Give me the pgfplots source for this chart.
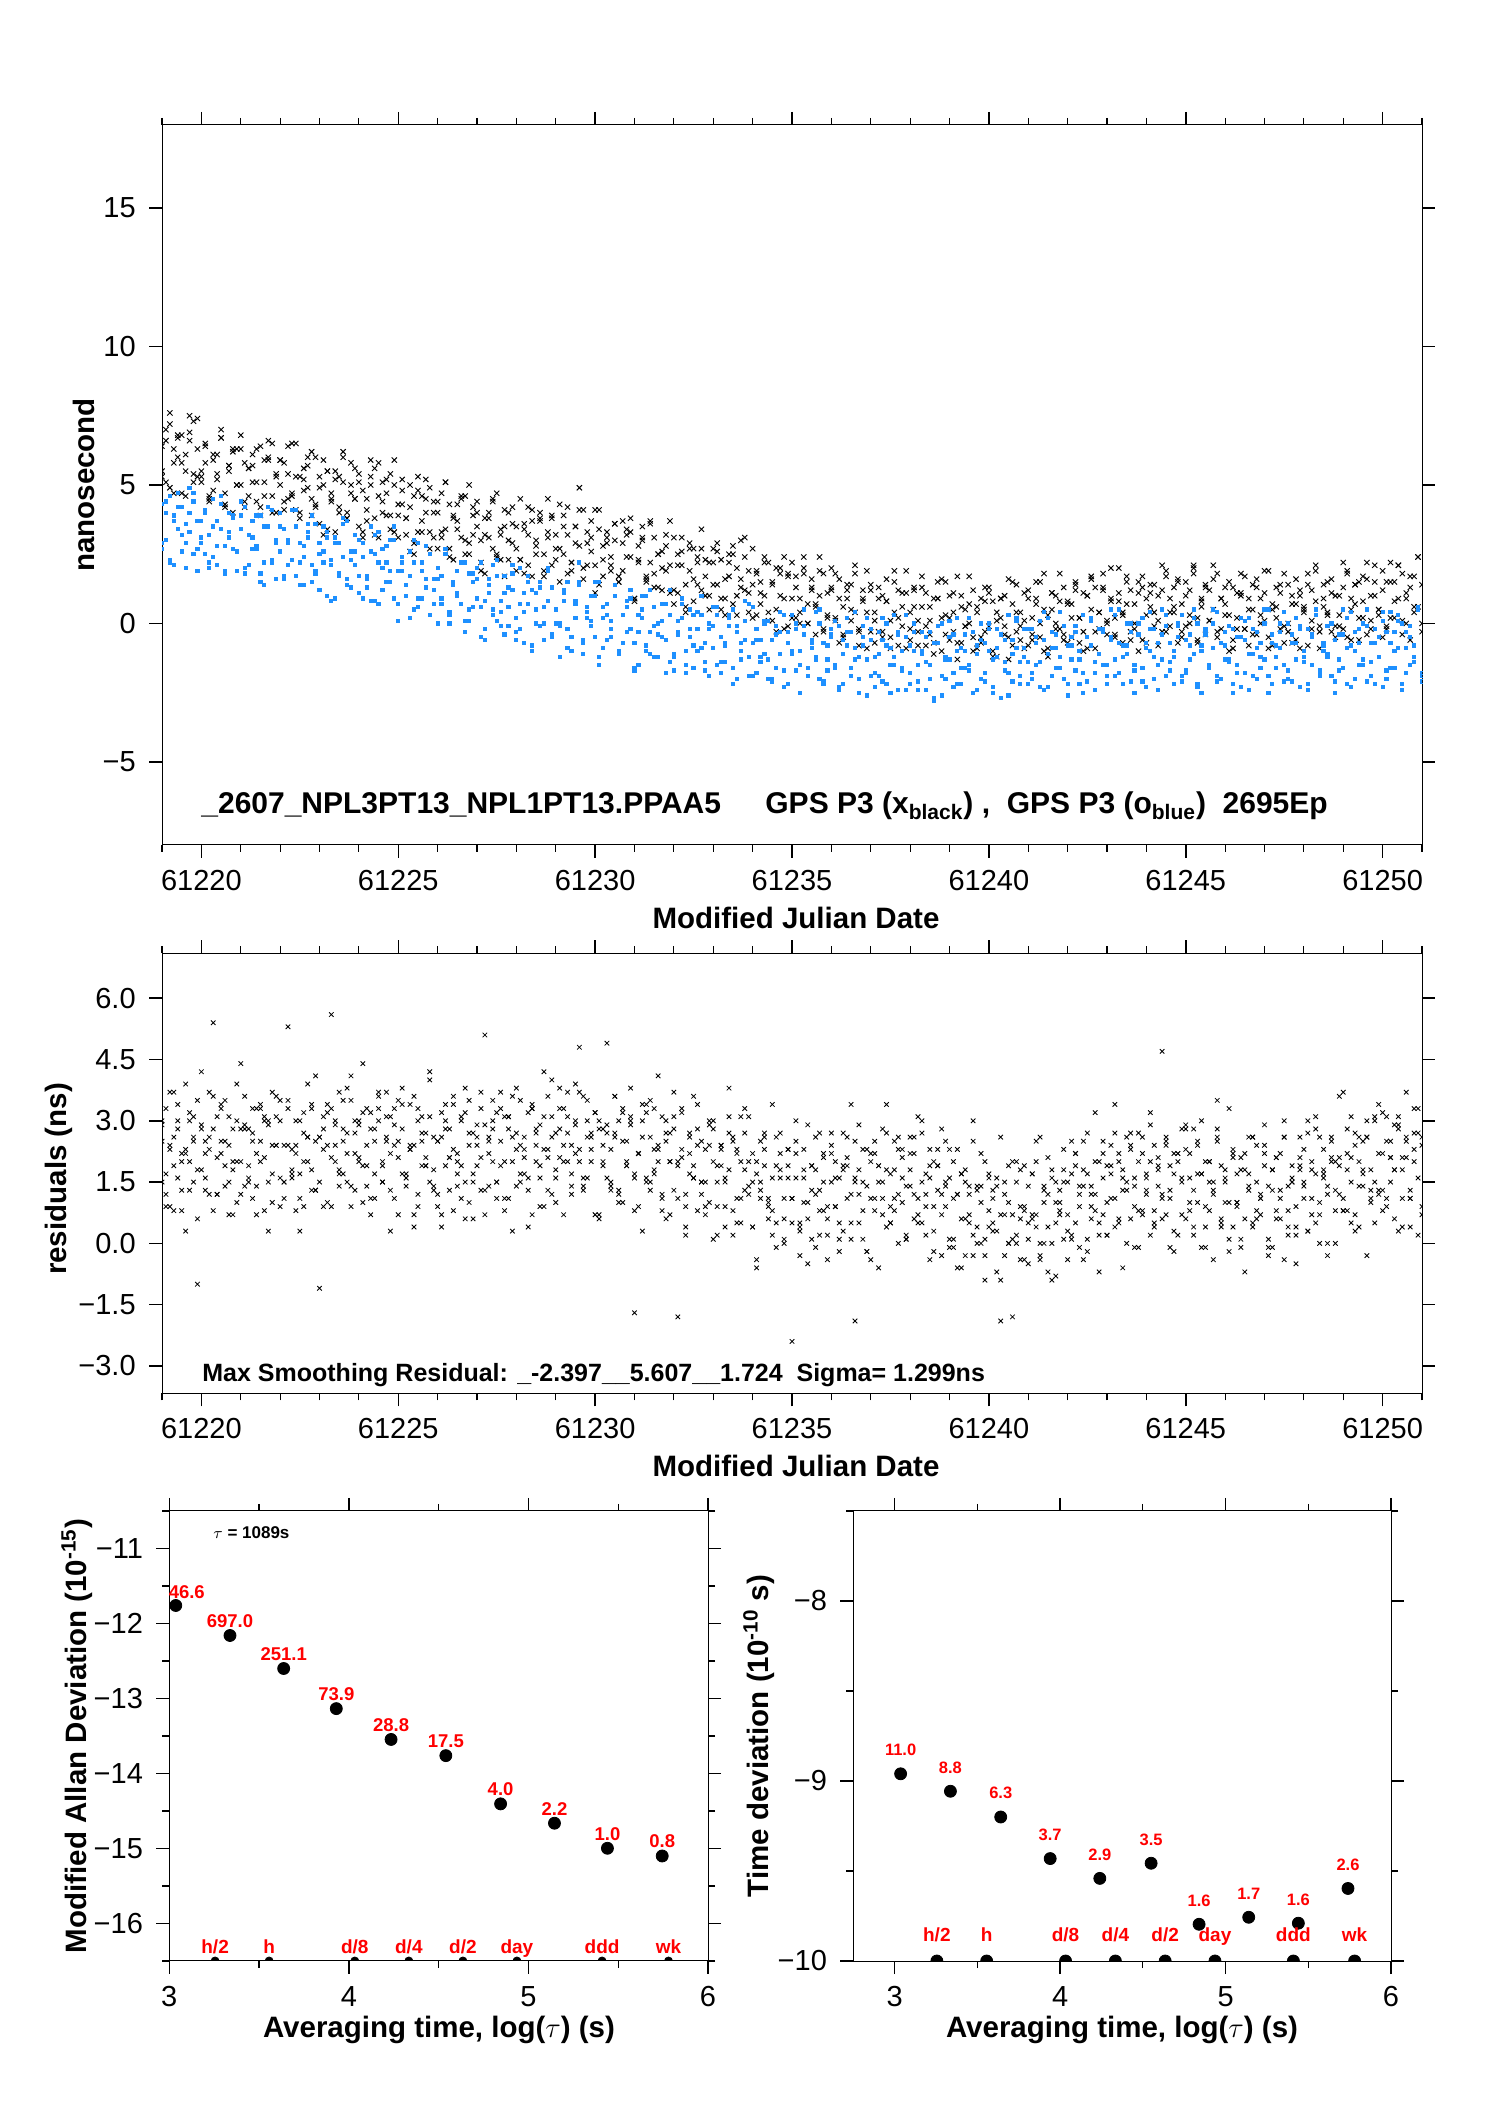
\documentclass[border=0pt]{standalone}
\usepackage{fontspec}
\setmainfont{Liberation Sans}
\usepackage{pgfplots}
\usepackage{pgfplotstable}
\pgfplotsset{compat=1.18}
\definecolor{gpsblue}{RGB}{30,144,255}
\newcommand{\fs}[1]{\fontsize{#1}{#1}\selectfont}
\pgfplotstableread{
x b1 b2 u1 u2 r1 r2 b3 u3 r3 r4
61219.0 6.4 5.5 4.3 2.7 2.9 1.5 5.3 2.9 2.5 3.0
61219.1 5.1 7.0 3.0 4.0 0.9 3.3 6.6 4.4 1.2 1.7
61219.2 7.6 4.9 2.2 4.6 2.4 2.3 7.2 2.3 3.7 0.9
61219.3 5.8 6.3 3.9 2.1 3.7 0.8 4.7 3.7 1.9 2.6
61219.4 6.7 6.8 4.7 3.4 1.6 3.0 6.0 4.2 2.8 3.4
61219.5 4.7 5.8 2.6 4.2 2.2 2.0 6.8 3.2 0.8 1.3
61219.6 6.1 4.6 3.6 2.9 0.3 3.9 5.5 2.0 2.2 2.3
61219.7 6.9 6.6 3.3 4.9 3.2 1.3 7.5 4.0 3.0 2.0
61219.8 5.4 7.3 4.4 2.5 2.6 2.5 5.1 4.7 1.5 3.1
61219.9 7.4 5.3 1.9 3.7 1.8 -1.0 6.3 2.7 3.5 0.6
61220.0 5.1 5.5 3.7 2.9 4.2 2.9 5.3 3.1 1.8 2.8
61220.1 5.8 6.4 2.5 4.1 1.3 2.2 6.5 4.0 2.5 1.6
61220.2 4.5 4.6 3.2 2.0 2.6 3.7 4.4 2.2 1.2 2.3
61220.3 6.1 5.9 4.5 2.4 0.8 5.4 4.8 3.5 2.8 3.6
61220.4 5.4 5.2 2.1 3.7 3.1 1.2 6.1 2.8 2.1 1.2
61220.5 6.7 7.0 3.4 4.3 2.2 3.3 6.7 4.6 3.4 2.5
61220.6 4.7 4.3 2.8 1.8 3.5 2.5 4.2 1.9 1.4 1.9
61220.7 5.7 5.7 4.0 3.1 1.5 0.7 5.5 3.3 2.4 3.1
61220.8 4.0 6.2 2.7 3.9 2.0 2.8 6.3 3.8 0.7 1.8
61220.9 6.3 5.0 1.9 2.6 3.9 2.0 5.0 2.6 3.0 1.0
61221.0 5.0 6.3 3.4 4.4 1.2 4.4 6.8 3.9 2.0 2.8
61221.1 5.8 4.2 4.2 2.0 2.9 1.4 4.4 1.8 2.8 3.6
61221.2 4.6 5.6 2.1 3.2 1.9 2.8 5.6 3.2 1.6 1.5
61221.3 5.7 6.1 3.1 2.7 3.3 1.1 5.1 3.7 2.7 2.5
61221.4 4.4 5.1 2.8 3.9 0.7 3.3 6.3 2.7 1.4 2.2
61221.5 6.4 3.9 3.9 1.8 2.5 2.0 4.2 1.5 3.4 3.3
61221.6 5.1 5.9 1.4 2.2 3.0 3.1 4.6 3.5 2.1 0.8
61221.7 6.0 6.6 3.5 3.5 1.5 0.3 5.9 4.2 3.0 2.9
61221.8 4.0 4.6 2.3 4.1 3.7 2.4 6.5 2.2 1.0 1.7
61221.9 5.4 5.3 3.0 1.6 3.1 3.6 4.0 2.9 2.4 2.4
61222.0 5.9 5.9 4.0 2.6 0.9 1.6 5.0 3.5 3.0 3.5
61222.1 4.4 4.1 1.6 3.4 2.4 1.5 5.8 1.7 1.5 1.1
61222.2 6.4 5.4 2.9 2.1 5.3 3.3 4.5 3.0 3.5 2.4
61222.3 4.6 4.7 2.3 4.1 1.6 2.3 6.5 2.3 1.7 1.8
61222.4 5.3 6.5 3.5 1.7 2.2 0.8 4.1 4.1 2.4 3.0
61222.5 4.0 3.8 2.2 2.9 0.3 3.0 5.3 1.4 1.1 1.7
61222.6 5.6 5.2 1.4 2.4 3.2 2.0 4.8 2.8 2.7 0.9
61222.7 4.9 5.7 3.1 3.6 2.6 3.9 6.0 3.3 2.0 2.6
61222.8 6.2 4.5 3.9 1.5 1.8 1.3 3.9 2.1 3.3 3.4
61222.9 4.2 6.0 1.8 1.9 4.1 2.5 4.3 3.6 1.3 1.3
61223.0 4.9 3.6 2.5 2.9 1.5 -1.1 5.3 1.2 2.6 2.6
61223.1 3.2 5.0 2.2 3.5 2.8 3.1 5.9 2.6 0.9 2.3
61223.2 5.5 5.5 3.3 1.0 1.0 2.4 3.4 3.1 3.2 3.4
61223.3 4.4 4.5 0.8 2.3 3.3 5.6 4.7 2.1 2.1 0.9
61223.4 5.2 3.3 2.9 3.1 2.4 2.0 5.5 0.9 2.9 3.0
61223.5 4.0 5.3 1.7 1.8 3.7 1.4 4.2 2.9 1.7 1.8
61223.6 5.1 6.0 2.4 3.8 1.7 3.5 6.2 3.6 2.8 2.5
61223.7 3.8 4.0 3.7 1.4 2.2 2.7 3.8 1.6 1.5 3.8
61223.8 5.8 4.7 1.3 2.6 4.1 0.9 5.0 2.3 3.5 1.4
61223.9 4.5 5.6 2.6 2.1 1.3 3.0 4.5 3.2 2.2 2.7
61224.0 5.1 3.5 1.7 3.0 2.9 2.1 5.4 1.1 3.0 2.0
61224.1 3.1 4.8 2.9 0.9 1.9 4.4 3.3 2.4 1.0 3.2
61224.2 4.5 4.1 1.6 1.3 3.3 1.4 3.7 1.7 2.4 1.9
61224.3 5.3 5.9 0.8 2.6 0.7 2.8 5.0 3.5 3.2 1.1
61224.4 3.8 3.2 2.5 3.2 2.5 1.1 5.6 0.8 1.7 2.8
61224.5 5.8 4.6 3.3 0.7 3.0 3.3 3.1 2.2 3.7 3.6
61224.6 4.0 5.1 1.2 2.0 1.5 2.0 4.4 2.7 1.9 1.5
61224.7 4.7 3.9 2.2 2.8 3.7 3.1 5.2 1.5 2.6 2.5
61224.8 3.4 5.4 1.9 1.5 3.1 0.3 3.9 3.0 1.3 2.2
61224.9 5.0 3.3 3.0 3.5 1.1 2.4 5.9 0.9 2.9 3.3
61225.0 3.9 4.3 0.1 0.7 2.5 3.5 3.1 1.9 2.1 0.7
61225.1 5.2 4.8 2.2 1.9 3.8 1.7 4.3 2.4 3.4 2.8
61225.2 3.2 3.8 1.0 1.4 1.7 1.6 3.8 1.4 1.4 1.6
61225.3 4.2 2.6 1.7 2.6 2.3 3.4 5.0 0.2 2.4 2.3
61225.4 2.5 4.6 3.0 0.5 0.4 2.4 2.9 2.2 0.7 3.6
61225.5 4.8 5.3 0.6 0.9 3.3 0.9 3.3 2.9 3.0 1.2
61225.6 3.7 3.3 1.9 2.2 2.7 3.1 4.6 0.9 1.9 2.5
61225.7 4.5 4.0 1.3 2.8 1.9 2.1 5.2 1.6 2.7 1.9
61225.8 3.3 4.9 2.5 0.3 4.2 4.0 2.7 2.5 1.5 3.1
61225.9 4.4 3.1 1.2 1.6 1.3 1.4 4.0 0.7 2.6 1.8
61226.0 2.7 4.0 0.0 2.0 2.5 2.5 4.4 1.6 1.2 0.9
61226.1 4.7 3.3 1.7 0.7 0.7 0.4 3.1 0.9 3.2 2.6
61226.2 3.4 5.1 2.5 2.7 3.0 2.8 5.1 2.7 1.9 3.4
61226.3 4.3 2.4 0.4 0.3 2.1 2.1 2.7 0.0 2.8 1.3
61226.4 2.3 3.8 1.4 1.5 3.4 3.6 3.9 1.4 0.8 2.3
61226.5 3.7 4.3 1.1 1.0 1.4 1.7 3.4 1.9 2.2 2.0
61226.6 4.5 3.1 2.2 2.2 1.9 1.1 4.6 0.7 3.0 3.1
61226.7 3.0 4.6 -0.3 0.1 3.8 3.2 2.5 2.2 1.5 0.6
61226.8 5.0 2.5 1.8 0.5 1.0 2.4 2.9 0.1 3.5 2.7
61226.9 3.2 3.9 0.6 1.8 2.7 0.6 4.2 1.5 1.7 1.5
61227.0 3.5 4.0 0.9 2.0 1.9 2.9 4.4 1.6 2.6 2.4
61227.1 2.2 3.0 2.2 -0.5 3.3 2.1 1.9 0.6 1.3 3.7
61227.2 3.8 1.8 -0.2 0.8 0.7 5.1 3.2 -0.6 2.9 1.3
61227.3 3.1 3.8 1.1 1.6 2.5 1.4 4.0 1.4 2.2 2.6
61227.4 4.4 4.5 0.5 0.3 3.0 2.8 2.7 2.1 3.5 2.0
61227.5 2.4 2.5 1.7 2.3 1.5 1.1 4.7 0.1 1.5 3.2
61227.6 3.4 3.2 0.4 -0.1 3.7 3.3 2.3 0.8 2.5 1.9
61227.7 1.7 4.1 -0.4 1.1 3.1 2.0 3.5 1.7 0.8 1.1
61227.8 4.0 2.3 1.3 0.6 1.1 3.1 3.0 -0.1 3.1 2.8
61227.9 2.9 3.6 2.1 1.8 2.6 0.3 4.2 1.2 2.0 3.6
61228.0 3.5 2.7 -0.3 -0.6 3.8 2.3 1.9 0.2 2.7 1.4
61228.1 2.3 4.5 0.7 -0.2 1.7 3.5 2.3 2.0 1.5 2.4
61228.2 3.4 1.8 0.4 1.1 2.3 1.7 3.6 -0.7 2.6 2.1
61228.3 2.1 3.2 1.5 1.7 0.4 1.6 4.2 0.7 1.3 3.2
61228.4 4.1 3.7 -1.0 -0.8 3.3 3.4 1.7 1.2 3.3 0.7
61228.5 2.8 2.5 1.1 0.5 2.7 2.4 3.0 0.0 2.0 2.8
61228.6 3.7 4.0 -0.1 1.3 1.9 0.9 3.8 1.5 2.9 1.6
61228.7 1.7 1.9 0.6 0.0 4.2 3.1 2.5 -0.6 0.9 2.3
61228.8 3.1 3.3 1.9 2.0 1.3 2.1 4.5 0.8 2.3 3.6
61228.9 3.9 3.8 -0.5 -0.4 2.6 4.0 2.1 1.3 3.1 1.2
61229.0 2.3 2.7 0.5 0.5 1.0 1.6 3.2 0.0 1.8 2.7
61229.1 4.3 1.5 -0.1 0.0 3.3 2.8 2.7 -1.2 3.8 2.1
61229.2 2.5 3.5 1.1 1.2 2.4 0.7 3.9 0.8 2.0 3.3
61229.3 3.2 4.2 -0.2 -0.9 3.7 3.1 1.8 1.5 2.7 2.0
61229.4 1.9 2.2 -1.0 -0.5 1.7 2.4 2.2 -0.5 1.4 1.2
61229.5 3.5 2.9 0.7 0.8 2.2 3.9 3.5 0.2 3.0 2.9
61229.6 2.8 4.9 1.5 1.4 4.8 2.0 4.1 2.2 2.3 3.7
61229.7 4.1 2.0 -0.6 -1.1 1.3 1.4 1.6 -0.7 3.6 1.6
61229.8 2.1 3.3 0.4 0.2 3.0 3.5 2.9 0.6 1.6 2.6
61229.9 3.1 2.6 0.1 1.0 2.0 2.7 3.7 -0.1 2.6 2.3
61230.0 1.1 4.1 1.0 -0.5 3.2 0.7 2.1 1.5 0.7 3.2
61230.1 3.4 1.4 -1.5 1.5 0.6 2.8 4.1 -1.2 3.0 0.7
61230.2 2.3 2.8 0.6 -0.9 2.4 2.0 1.7 0.2 1.9 2.8
61230.3 3.1 3.3 -0.6 0.3 2.9 4.9 2.9 0.7 2.7 1.6
61230.4 1.9 2.1 0.1 -0.2 1.4 1.3 2.4 -0.5 1.5 2.3
61230.5 3.0 3.6 1.4 1.0 3.6 2.7 3.6 1.0 2.6 3.6
61230.6 1.7 1.5 -1.0 -1.1 3.0 1.0 1.5 -1.1 1.3 1.2
61230.7 3.7 2.9 0.3 -0.7 1.0 3.2 1.9 0.3 3.3 2.5
61230.8 2.4 3.4 -0.3 0.6 2.5 1.9 3.2 0.8 2.0 1.9
61230.9 3.3 2.4 0.9 1.2 3.8 3.0 3.8 -0.2 2.9 3.1
61231.0 0.9 0.8 -0.7 -1.6 1.6 -1.7 0.9 -1.7 0.8 1.7
61231.1 2.3 2.8 -1.5 -0.3 2.2 2.2 2.2 0.3 2.2 0.9
61231.2 3.1 3.5 0.2 0.5 0.3 3.4 3.0 1.0 3.0 2.6
61231.3 1.6 1.5 1.0 -0.8 3.2 1.6 1.7 -1.0 1.5 3.4
61231.4 3.6 2.2 -1.1 1.2 2.6 1.5 3.7 -0.3 3.5 1.3
61231.5 1.8 3.1 -0.1 -1.2 1.8 3.3 1.3 0.6 1.7 2.3
61231.6 2.5 1.3 -0.4 0.0 4.1 2.3 2.5 -1.2 2.4 2.0
61231.7 1.2 2.6 0.7 -0.5 1.2 0.8 2.0 0.1 1.1 3.1
61231.8 2.8 1.9 -1.8 0.7 2.5 3.0 3.2 -0.6 2.7 0.6
61231.9 2.1 3.7 0.3 -1.4 0.7 2.0 1.1 1.2 2.0 2.7
61232.0 3.1 0.7 -1.1 -1.2 2.8 3.7 1.2 -1.7 3.1 1.3
61232.1 1.1 2.1 -0.4 0.1 1.9 -1.8 2.5 -0.3 1.1 2.0
61232.2 2.1 2.6 0.9 0.7 3.2 2.3 3.1 0.2 2.1 3.3
61232.3 0.4 1.4 -1.5 -1.8 1.2 0.2 0.6 -1.0 0.4 0.9
61232.4 2.7 2.9 -0.2 -0.5 1.7 2.6 1.9 0.5 2.7 2.2
61232.5 1.6 0.8 -0.8 0.3 3.6 1.9 2.7 -1.6 1.6 1.6
61232.6 2.4 2.2 0.4 -1.0 0.8 3.4 1.4 -0.2 2.4 2.8
61232.7 1.2 2.7 -0.9 1.0 2.5 1.5 3.4 0.3 1.2 1.5
61232.8 2.3 1.7 -1.7 -1.4 1.5 0.9 1.0 -0.7 2.3 0.7
61232.9 1.0 0.5 0.0 -0.2 2.9 3.0 2.2 -1.9 1.0 2.4
61233.0 2.7 2.2 0.6 -0.9 0.1 2.0 1.4 -0.1 2.8 3.0
61233.1 1.4 2.9 -1.5 0.3 1.9 0.2 2.6 0.6 1.5 0.9
61233.2 2.3 0.9 -0.5 -1.8 2.4 2.3 0.5 -1.4 2.4 1.9
61233.3 0.3 1.6 -0.8 -1.4 0.9 1.5 0.9 -0.7 0.4 1.6
61233.4 1.7 2.5 0.3 -0.1 3.1 3.8 2.2 0.2 1.8 2.7
61233.5 2.5 0.7 -2.2 0.5 2.5 0.8 2.8 -1.6 2.6 0.2
61233.6 1.0 2.0 -0.1 -2.0 0.5 2.2 0.3 -0.3 1.1 2.3
61233.7 3.0 1.3 -1.3 -0.7 2.0 0.5 1.6 -1.0 3.1 1.1
61233.8 1.2 3.1 -0.6 0.1 3.3 2.7 2.4 0.8 1.3 1.8
61233.9 1.9 0.4 0.7 -1.2 1.2 1.4 1.1 -1.9 2.0 3.1
61234.0 0.2 1.4 -1.9 0.6 1.5 2.2 2.7 -0.7 0.4 0.4
61234.1 1.8 1.9 -0.6 -1.8 -0.4 -0.6 0.3 -0.2 2.0 1.7
61234.2 1.1 0.7 -1.2 -0.6 2.5 1.5 1.5 -1.4 1.3 1.1
61234.3 2.4 2.2 0.0 -1.1 1.9 2.7 1.0 0.1 2.6 2.3
61234.4 0.4 0.1 -1.3 0.1 1.1 0.9 2.2 -2.0 0.6 1.0
61234.5 1.4 1.5 -2.1 -2.0 3.4 0.8 0.1 -0.6 1.6 0.2
61234.6 -0.3 2.0 -0.4 -1.6 0.5 2.6 0.5 -0.1 -0.1 1.9
61234.7 2.0 1.0 0.4 -0.3 1.8 1.6 1.8 -1.1 2.2 2.7
61234.8 0.9 -0.2 -1.7 0.3 0.0 0.1 2.4 -2.3 1.1 0.6
61234.9 1.7 1.8 -0.7 -2.2 2.3 2.3 -0.1 -0.3 1.9 1.6
61235.0 0.2 2.2 -1.1 -1.0 -2.4 1.1 0.9 0.3 0.5 1.1
61235.1 1.3 0.2 0.0 -0.2 2.5 3.0 1.7 -1.7 1.6 2.2
61235.2 0.0 0.9 -2.5 -1.5 0.5 0.4 0.4 -1.0 0.3 -0.3
61235.3 2.0 1.8 -0.4 0.5 1.0 1.6 2.4 -0.1 2.3 1.8
61235.4 0.7 0.0 -1.6 -1.9 2.9 -0.5 0.0 -1.9 1.0 0.6
61235.5 1.6 1.3 -0.9 -0.7 0.1 1.9 1.2 -0.6 1.9 1.3
61235.6 -0.4 0.6 0.4 -1.2 1.8 1.2 0.7 -1.3 -0.1 2.6
61235.7 1.0 2.4 -2.0 0.0 0.8 2.7 1.9 0.5 1.3 0.2
61235.8 1.8 -0.3 -0.7 -2.1 2.2 0.8 -0.2 -2.2 2.1 1.5
61235.9 0.3 1.1 -1.3 -1.7 -0.4 0.2 0.2 -0.8 0.6 0.9
61236.0 2.0 1.3 -0.2 -0.5 1.5 2.4 1.2 -0.4 2.7 2.2
61236.1 0.2 0.1 -1.5 0.1 2.0 1.6 1.8 -1.6 0.9 0.9
61236.2 0.9 1.6 -2.3 -2.4 0.5 -0.2 -0.7 -0.1 1.6 0.1
61236.3 -0.4 -0.5 -0.6 -1.1 2.7 1.9 0.6 -2.2 0.3 1.8
61236.4 1.2 0.9 0.2 -0.3 2.1 1.1 1.4 -0.8 1.9 2.6
61236.5 0.5 1.4 -1.9 -1.6 0.1 3.4 0.1 -0.3 1.2 0.5
61236.6 1.8 0.4 -0.9 0.4 1.6 -1.9 2.1 -1.3 2.5 1.5
61236.7 -0.2 -0.8 -1.2 -2.0 2.9 1.8 -0.3 -2.5 0.5 1.2
61236.8 0.8 1.2 -0.1 -0.8 0.8 0.1 0.9 -0.5 1.5 2.3
61236.9 -0.9 1.9 -2.6 -1.3 1.4 2.3 0.4 0.2 -0.2 -0.2
61237.0 1.2 -0.3 -0.6 -0.2 -0.4 1.1 1.4 -1.9 2.2 2.0
61237.1 0.1 0.4 -1.8 -2.3 2.5 2.2 -0.7 -1.2 1.1 0.8
61237.2 0.9 1.3 -1.1 -1.9 1.9 -0.6 -0.3 -0.3 1.9 1.5
61237.3 -0.3 -0.5 0.2 -0.6 1.1 1.5 1.0 -2.1 0.7 2.8
61237.4 0.8 0.8 -2.2 0.0 3.4 2.7 1.6 -0.8 1.8 0.4
61237.5 -0.5 0.1 -0.9 -2.5 0.5 0.9 -0.9 -1.5 0.5 1.7
61237.6 1.5 1.9 -1.5 -1.2 1.8 0.8 0.4 0.3 2.5 1.1
61237.7 0.2 -0.8 -0.3 -0.4 0.0 2.6 1.2 -2.4 1.2 2.3
61237.8 1.1 0.6 -1.6 -1.7 2.3 1.6 -0.1 -1.0 2.1 1.0
61237.9 -0.9 1.1 -2.4 0.3 1.4 0.1 1.9 -0.5 0.1 0.2
61238.0 0.4 -0.2 -0.8 -2.2 2.6 2.2 -0.6 -1.8 1.4 1.8
61238.1 1.2 1.3 0.0 -1.0 0.6 1.2 0.6 -0.3 2.2 2.6
61238.2 -0.3 -0.8 -2.1 -1.5 1.1 3.1 0.1 -2.4 0.7 0.5
61238.3 1.7 0.6 -1.1 -0.3 3.0 0.5 1.3 -1.0 2.7 1.5
61238.4 -0.1 1.1 -1.4 -2.4 0.2 1.7 -0.8 -0.5 0.9 1.2
61238.5 0.6 0.1 -0.3 -2.0 1.9 -0.4 -0.4 -1.5 1.6 2.3
61238.6 -0.7 -1.1 -2.8 -0.7 0.9 2.0 0.9 -2.7 0.3 -0.2
61238.7 0.9 0.9 -0.7 -0.1 2.3 1.3 1.5 -0.7 1.9 1.9
61238.8 0.2 1.6 -1.9 -2.6 -0.3 2.8 -1.0 0.0 1.2 0.7
61238.9 1.5 -0.4 -1.2 -1.3 1.5 0.9 0.3 -2.0 2.5 1.4
61239.0 -0.6 0.2 0.1 -0.5 1.6 -0.1 1.0 -1.3 0.1 2.3
61239.1 0.4 1.1 -2.3 -1.8 0.1 2.0 -0.3 -0.4 1.1 -0.1
61239.2 -1.3 -0.7 -1.0 0.2 2.3 1.2 1.7 -2.2 -0.6 1.2
61239.3 1.0 0.6 -1.6 -2.2 1.7 -0.6 -0.7 -0.9 1.7 0.6
61239.4 -0.1 -0.1 -0.4 -1.0 -0.3 1.5 0.5 -1.6 0.6 1.8
61239.5 0.7 1.7 -1.7 -1.5 1.2 0.7 0.0 0.2 1.4 0.5
61239.6 -0.5 -1.0 -2.5 -0.3 2.5 3.0 1.2 -2.5 0.2 -0.3
61239.7 0.6 0.4 -0.8 -2.4 0.4 0.0 -0.9 -1.1 1.3 1.4
61239.8 -0.7 0.9 0.0 -2.0 1.0 1.4 -0.5 -0.6 0.0 2.2
61239.9 1.3 -0.3 -2.1 -0.7 -0.9 -0.3 0.8 -1.8 2.0 0.1
61240.0 -0.1 1.1 -1.0 0.0 1.7 1.6 1.3 -0.2 0.4 0.8
61240.1 0.8 -1.0 -1.3 -2.5 1.1 0.3 -1.2 -2.3 1.3 0.5
61240.2 -1.2 0.4 -0.2 -1.2 0.3 1.4 0.1 -0.9 -0.7 1.6
61240.3 0.2 0.9 -2.7 -0.4 2.6 -1.9 0.9 -0.4 0.7 -0.9
61240.4 1.0 -0.1 -0.6 -1.7 -0.3 0.7 -0.4 -1.4 1.5 1.2
61240.5 -0.5 -1.3 -1.8 0.3 1.0 1.9 1.6 -2.6 0.0 0.0
61240.6 1.5 0.7 -1.1 -2.1 -1.8 0.1 -0.8 -0.6 2.0 0.7
61240.7 -0.3 1.4 0.2 -0.9 1.5 0.0 0.4 0.1 0.2 2.0
61240.8 0.4 -0.6 -2.2 -1.4 0.6 1.8 -0.1 -1.9 0.9 -0.4
61240.9 -0.9 0.1 -0.9 -0.2 1.9 0.8 1.1 -1.2 -0.4 0.9
61241.0 0.9 1.2 -1.4 -2.2 0.1 -0.5 -0.8 -0.2 1.4 0.5
61241.1 0.2 -0.6 -0.2 -1.8 0.6 1.7 -0.4 -2.0 0.7 1.7
61241.2 1.5 0.7 -1.5 -0.5 2.5 0.7 0.9 -0.7 2.0 0.4
61241.3 -0.5 0.0 -2.3 0.1 -0.3 2.6 1.5 -1.4 0.0 -0.4
61241.4 0.5 1.8 -0.6 -2.4 1.4 0.0 -1.0 0.4 1.0 1.3
61241.5 -1.2 -0.9 0.2 -1.1 0.4 1.2 0.3 -2.3 -0.7 2.1
61241.6 1.1 0.5 -1.9 -0.3 1.8 -0.9 1.1 -0.9 1.6 0.0
61241.7 0.0 1.0 -0.9 -1.6 -0.8 1.5 -0.2 -0.4 0.5 1.0
61241.8 0.8 -0.2 -1.2 0.4 1.0 0.8 1.8 -1.6 1.3 0.7
61241.9 -0.4 1.3 -0.1 -2.0 1.5 2.3 -0.6 -0.1 0.1 1.8
61242.0 0.8 -0.7 -2.6 -0.8 0.3 0.7 0.7 -2.2 1.5 -0.4
61242.1 -0.5 0.7 -0.5 -1.3 2.5 0.1 0.2 -0.8 0.2 1.7
61242.2 1.5 1.2 -1.7 -0.1 1.9 2.2 1.4 -0.3 2.2 0.5
61242.3 0.2 0.2 -1.0 -2.2 -0.1 1.4 -0.7 -1.3 0.9 1.2
61242.4 1.1 -1.0 0.3 -1.8 1.4 -0.4 -0.3 -2.5 1.8 2.5
61242.5 -0.9 1.0 -2.1 -0.5 2.7 1.7 1.0 -0.5 -0.2 0.1
61242.6 0.5 1.7 -0.8 0.1 0.6 0.9 1.6 0.2 1.2 1.4
61242.7 1.3 -0.3 -1.4 -2.4 1.2 3.2 -0.9 -1.8 2.0 0.8
61242.8 -0.2 0.4 -0.2 -1.1 -0.7 0.2 0.4 -1.1 0.5 2.0
61242.9 1.8 1.3 -1.5 -0.3 2.2 1.6 1.2 -0.2 2.5 0.7
61243.0 0.1 -0.4 -2.2 -1.5 1.9 0.2 0.0 -1.9 1.0 0.2
61243.1 0.8 0.9 -0.5 0.5 1.1 2.4 2.0 -0.6 1.7 1.9
61243.2 -0.5 0.2 0.3 -1.9 3.4 1.1 -0.4 -1.3 0.4 2.7
61243.3 1.1 2.0 -1.8 -0.7 0.5 2.2 0.8 0.5 2.0 0.6
61243.4 0.4 -0.7 -0.8 -1.2 1.8 -0.6 0.3 -2.2 1.3 1.6
61243.5 1.7 0.7 -1.1 0.0 0.0 1.5 1.5 -0.8 2.6 1.3
61243.6 -0.3 1.2 0.0 -2.1 2.3 2.7 -0.6 -0.3 0.6 2.4
61243.7 0.7 0.0 -2.5 -1.7 1.4 0.9 -0.2 -1.5 1.6 -0.1
61243.8 -1.0 1.5 -0.4 -0.4 2.7 0.8 1.1 0.0 -0.1 2.0
61243.9 1.3 -0.6 -1.6 0.2 0.7 2.6 1.7 -2.1 2.2 0.8
61244.0 0.3 0.9 -0.9 -2.3 1.3 1.7 -0.7 -0.7 1.2 1.6
61244.1 1.1 1.4 0.4 -1.0 3.2 0.2 0.6 -0.2 2.0 2.9
61244.2 -0.1 0.4 -2.0 -0.2 0.4 2.4 1.4 -1.2 0.8 0.5
61244.3 1.0 -0.8 -0.7 -1.5 2.1 1.4 0.1 -2.4 1.9 1.8
61244.4 -0.3 1.2 -1.3 0.5 1.1 4.7 2.1 -0.4 0.6 1.2
61244.5 1.7 1.9 -0.1 -1.9 2.5 0.7 -0.3 0.3 2.6 2.4
61244.6 0.4 -0.1 -1.4 -0.7 -0.1 1.9 0.9 -1.7 1.3 1.1
61244.7 1.3 0.6 -2.2 -1.2 1.7 -0.2 0.4 -1.0 2.2 0.3
61244.8 -0.7 1.5 -0.5 0.0 2.2 2.2 1.6 -0.1 0.2 2.0
61244.9 0.7 -0.3 0.3 -2.1 0.7 1.5 -0.5 -1.9 1.6 2.8
61245.0 1.5 1.0 -1.8 -1.7 2.8 2.9 -0.1 -0.6 2.3 0.6
61245.1 0.0 0.3 -0.8 -0.4 2.2 1.0 1.2 -1.3 0.8 1.6
61245.2 2.0 2.1 -1.1 0.2 0.2 0.4 1.8 0.5 2.8 1.3
61245.3 0.2 -0.6 0.0 -2.3 1.7 2.5 -0.7 -2.2 1.0 2.4
61245.4 0.9 0.8 -2.5 -1.0 3.0 1.7 0.6 -0.8 1.7 -0.1
61245.5 -0.4 1.3 -0.4 -0.2 0.9 -0.1 1.4 -0.3 0.4 2.0
61245.6 1.2 0.1 -1.6 -1.5 1.5 2.0 0.1 -1.5 2.0 0.8
61245.7 0.5 1.6 -0.9 0.5 -0.4 1.2 2.1 0.0 1.3 1.5
61245.8 1.8 -0.5 0.4 -1.9 2.5 3.5 -0.3 -2.1 2.6 2.8
61245.9 -0.2 0.9 -2.0 -0.7 1.9 0.5 0.9 -0.7 0.6 0.4
61246.0 0.7 1.3 -0.8 -1.3 1.0 1.8 0.3 -0.3 1.5 1.6
61246.1 -1.0 0.3 -1.4 -0.1 3.3 0.1 1.5 -1.3 -0.2 1.0
61246.2 1.3 -0.9 -0.2 -2.2 0.4 2.3 -0.6 -2.5 2.1 2.2
61246.3 0.2 1.1 -1.5 -1.8 1.7 1.0 -0.2 -0.5 1.0 0.9
61246.4 1.0 1.8 -2.3 -0.5 -0.1 2.1 1.1 0.2 1.8 0.1
61246.5 -0.2 -0.2 -0.6 0.1 2.2 -0.7 1.7 -1.8 0.6 1.8
61246.6 0.9 0.5 0.2 -2.4 1.3 1.4 -0.8 -1.1 1.7 2.6
61246.7 -0.4 1.4 -1.9 -1.1 2.6 2.6 0.5 -0.2 0.4 0.5
61246.8 1.6 -0.4 -0.9 -0.3 0.6 0.8 1.3 -2.0 2.4 1.5
61246.9 0.3 0.9 -1.2 -1.6 1.1 0.7 0.0 -0.7 1.1 1.2
61247.0 1.1 0.1 0.0 0.5 2.9 2.4 1.9 -1.3 1.9 2.2
61247.1 -0.9 1.9 -2.5 -1.9 0.1 1.4 -0.5 0.5 -0.1 -0.3
61247.2 0.5 -0.8 -0.4 -0.7 1.8 -0.1 0.7 -2.2 1.3 1.8
61247.3 1.3 0.6 -1.6 -1.2 0.8 2.1 0.2 -0.8 2.1 0.6
61247.4 -0.2 1.1 -0.9 0.0 2.2 1.1 1.4 -0.3 0.6 1.3
61247.5 1.8 -0.1 0.4 -2.1 -0.4 3.0 -0.7 -1.5 2.6 2.6
61247.6 0.0 1.4 -2.0 -1.7 1.4 0.4 -0.3 0.0 0.8 0.2
61247.7 0.7 -0.7 -0.7 -0.4 1.9 1.6 1.0 -2.1 1.5 1.5
61247.8 -0.6 0.7 -1.3 0.2 0.4 -0.5 1.6 -0.7 0.2 0.9
61247.9 1.0 1.2 -0.1 -2.3 2.6 1.9 -0.9 -0.2 1.8 2.1
61248.0 0.5 0.4 -1.4 -1.0 2.3 1.5 0.6 -1.2 1.4 1.1
61248.1 1.8 -0.8 -2.2 -0.2 0.3 3.0 1.4 -2.4 2.7 0.3
61248.2 -0.2 1.2 -0.5 -1.5 1.8 1.1 0.1 -0.4 0.7 2.0
61248.3 0.8 1.9 0.3 0.5 3.1 0.5 2.1 0.3 1.7 2.8
61248.4 -0.9 -0.1 -1.8 -1.9 1.0 2.6 -0.3 -1.7 0.0 0.7
61248.5 1.4 0.6 -0.8 -0.7 1.6 1.8 0.9 -1.0 2.3 1.7
61248.6 0.3 1.5 -1.1 -1.2 -0.3 0.0 0.4 -0.1 1.2 1.4
61248.7 1.1 -0.3 0.0 0.0 2.6 2.1 1.6 -1.9 2.0 2.5
61248.8 -0.1 1.0 -2.5 -2.1 2.0 1.3 -0.5 -0.6 0.8 0.0
61248.9 1.0 0.3 -0.4 -1.7 1.2 3.6 -0.1 -1.3 1.9 2.1
61249.0 -0.2 2.2 -1.6 -0.4 3.7 0.8 1.3 0.5 0.8 1.1
61249.1 1.8 -0.5 -0.9 0.2 0.8 2.2 1.9 -2.2 2.8 1.8
61249.2 0.5 0.9 0.4 -2.3 2.1 0.5 -0.6 -0.8 1.5 3.1
61249.3 1.4 1.4 -2.0 -1.0 0.3 2.7 0.7 -0.3 2.4 0.7
61249.4 -0.6 0.2 -0.7 -0.2 2.6 1.4 1.5 -1.5 0.4 2.0
61249.5 0.8 1.7 -1.3 -1.5 1.7 2.5 0.2 0.0 1.8 1.4
61249.6 1.6 -0.4 -0.1 0.5 3.0 -0.3 2.2 -2.1 2.6 2.6
61249.7 0.1 1.0 -1.4 -1.9 1.0 1.8 -0.2 -0.7 1.1 1.3
61249.8 2.1 1.5 -2.2 -0.7 1.5 3.0 1.0 -0.2 3.1 0.5
61249.9 0.3 0.5 -0.5 -1.2 3.4 1.2 0.5 -1.2 1.3 2.2
61250.0 1.2 -0.5 0.4 0.1 0.8 1.3 1.9 -2.3 2.2 3.2
61250.1 -0.1 1.5 -1.7 -2.0 2.5 3.1 -0.2 -0.3 0.9 1.1
61250.2 1.5 2.2 -0.7 -1.6 1.5 2.1 0.2 0.4 2.5 2.1
61250.3 0.8 0.2 -1.0 -0.3 2.9 0.6 1.5 -1.6 1.8 1.8
61250.4 2.1 0.9 0.1 0.3 0.3 2.8 2.1 -0.9 3.1 2.9
61250.5 0.1 1.8 -2.4 -2.2 2.1 1.8 -0.4 0.0 1.1 0.4
61250.6 1.1 0.0 -0.3 -0.9 2.6 3.7 0.9 -1.8 2.1 2.5
61250.7 -0.6 1.3 -1.5 -0.1 1.1 1.1 1.7 -0.5 0.4 1.3
61250.8 1.7 0.6 -0.8 -1.4 3.3 2.3 0.4 -1.2 2.7 2.0
61250.9 0.6 2.4 0.5 0.6 2.7 0.2 2.4 0.6 1.6 3.3
61251.0 1.4 -0.3 -1.9 -1.8 0.7 2.6 0.0 -2.1 2.4 0.9
}\gpsdata

\tikzset{lbl/.style={font=\bfseries\fs{#1}, text=red, inner sep=0pt}}
\pgfplotsset{
  myaxis/.style={
    scale only axis,
    anchor=south west,
    axis line style={line width=0.5pt},
    tick align=outside,
    tick pos=both,
    xticklabel pos=lower,
    yticklabel pos=left,
    scaled x ticks=false,
    scaled y ticks=false,
    major tick length=6.5pt,
    minor tick length=3.5pt,
    major tick style={line width=0.75pt, black},
    minor tick style={line width=0.6pt, black},
    tick label style={font=\fs{14.5}, inner sep=0pt},
    xticklabel style={yshift=-6pt},
    yticklabel style={xshift=-6.5pt},
    clip marker paths=true,
  },
  mjdaxis/.style={
    myaxis, width=630pt, xmin=61219, xmax=61251,
    xtick={61220,61225,61230,61235,61240,61245,61250},
    xticklabels={61220,61225,61230,61235,61240,61245,61250},
    minor xtick={61219,61220,61221,61222,61223,61224,61225,61226,61227,61228,61229,61230,61231,61232,61233,61234,61235,61236,61237,61238,61239,61240,61241,61242,61243,61244,61245,61246,61247,61248,61249,61250,61251},
  },
  blk/.style={only marks, mark=x, mark size=1.85pt, black, line width=0.45pt},
  blu/.style={only marks, mark=square*, mark size=0.8pt, mark options={draw=gpsblue, fill=gpsblue, line width=0pt}},
  res/.style={only marks, mark=x, mark size=1.6pt, black, line width=0.42pt},
}

\begin{document}
\begin{tikzpicture}
\path[use as bounding box] (0,0) rectangle (744pt,1052.5pt);

% ---------- top panel ----------
\begin{axis}[mjdaxis, at={(81pt,630pt)}, height=360pt,
  ymin=-8, ymax=18,
  ytick={-5,0,5,10,15}, yticklabels={−5,0,5,10,15}]
\addplot[blk] table[x=x,y=b1]{\gpsdata};
\addplot[blk] table[x=x,y=b2]{\gpsdata};
\addplot[blk] table[x=x,y=b3]{\gpsdata};
\addplot[blu] table[x=x,y=u1]{\gpsdata};
\addplot[blu] table[x=x,y=u2]{\gpsdata};
\addplot[blu] table[x=x,y=u3]{\gpsdata};
\end{axis}

% ---------- middle panel ----------
\begin{axis}[mjdaxis, at={(81pt,355.85pt)}, height=220pt,
  ymin=-3.67, ymax=7.1,
  ytick={-3,-1.5,0,1.5,3,4.5,6}, yticklabels={−3.0,−1.5,0.0,1.5,3.0,4.5,6.0}]
\addplot[res] table[x=x,y=r1]{\gpsdata};
\addplot[res] table[x=x,y=r2]{\gpsdata};
\addplot[res] table[x=x,y=r3]{\gpsdata};
\addplot[res] table[x=x,y=r4]{\gpsdata};
\end{axis}

% ---------- bottom left: modified Allan deviation ----------
\begin{axis}[myaxis, at={(84.65pt,72pt)}, width=269.35pt, height=225pt,
  xmin=3, xmax=6, ymin=-16.5, ymax=-10.5,
  xtick={3,4,5,6}, xticklabels={3,4,5,6}, minor xtick={3.5,4.5,5.5},
  ytick={-16,-15,-14,-13,-12,-11}, yticklabels={−16,−15,−14,−13,−12,−11},
  minor ytick={-16.5,-15.5,-14.5,-13.5,-12.5,-11.5,-10.5}]
\addplot[only marks, mark=*, mark size=3pt, black, nodes near coords, point meta=explicit symbolic,
  nodes near coords style={lbl=9.25, anchor=base west, xshift=-3.7pt, yshift=3.6pt}]
  table[x=x,y=y,meta=l]{
x y l
3.036 -11.76 46.6
};
\addplot[only marks, mark=*, mark size=3pt, black, nodes near coords, point meta=explicit symbolic,
  nodes near coords style={lbl=9.25, anchor=base, yshift=4pt}]
  table[x=x,y=y,meta=l]{
x y l
3.338 -12.16 697.0
3.637 -12.60 251.1
3.93 -13.135 73.9
4.235 -13.546 28.8
4.54 -13.762 17.5
4.845 -14.405 4.0
5.145 -14.663 2.2
5.44 -14.997 1.0
5.745 -15.10 0.8
};
\addplot[only marks, mark=*, mark size=2pt, black, nodes near coords, point meta=explicit symbolic,
  nodes near coords style={lbl=9.5, anchor=base, yshift=3.5pt}]
  table[x=x,y=y,meta=l]{
x y l
3.255 -16.5 h/2
3.556 -16.5 h
4.033 -16.5 d/8
4.334 -16.5 d/4
4.635 -16.5 d/2
4.936 -16.5 day
5.41 -16.5 ddd
5.78 -16.5 wk
};
\end{axis}

% ---------- bottom right: time deviation ----------
\begin{axis}[myaxis, at={(426.65pt,72pt)}, width=268.85pt, height=225pt,
  xmin=2.75, xmax=6, ymin=-10, ymax=-7.5,
  xtick={3,4,5,6}, xticklabels={3,4,5,6}, minor xtick={3.5,4.5,5.5},
  ytick={-10,-9,-8}, yticklabels={−10,−9,−8},
  minor ytick={-9.5,-8.5,-7.5}]
\addplot[only marks, mark=*, mark size=3pt, black, nodes near coords, point meta=explicit symbolic,
  nodes near coords style={lbl=8.25, anchor=base, yshift=9pt}]
  table[x=x,y=y,meta=l]{
x y l
3.036 -8.96 11.0
3.337 -9.057 8.8
3.641 -9.20 6.3
3.94 -9.431 3.7
4.24 -9.541 2.9
4.55 -9.457 3.5
4.84 -9.796 1.6
5.14 -9.757 1.7
5.44 -9.79 1.6
5.74 -9.597 2.6
};
\addplot[only marks, mark=*, mark size=3pt, black, nodes near coords, point meta=explicit symbolic,
  nodes near coords style={lbl=9.5, anchor=base, yshift=9.5pt}]
  table[x=x,y=y,meta=l]{
x y l
3.255 -10 h/2
3.556 -10 h
4.033 -10 d/8
4.334 -10 d/4
4.635 -10 d/2
4.936 -10 day
5.41 -10 ddd
5.78 -10 wk
};
\end{axis}

% ---------- texts ----------
\node[anchor=base west, inner sep=0pt, font=\bfseries\fs{15}] at (100.5pt,645.5pt) {\_2607\_NPL3PT13\_NPL1PT13.PPAA5};
\node[anchor=base west, inner sep=0pt, font=\bfseries\fs{15}] at (382.5pt,645.5pt) {GPS P3 (x\textsubscript{black}) ,\ \ GPS P3 (o\textsubscript{blue})\ \ 2695Ep};
\node[anchor=base, inner sep=0pt, font=\bfseries\fs{14.75}] at (398pt,588pt) {Modified Julian Date};
\node[anchor=base, inner sep=0pt, font=\bfseries\fs{14.75}, rotate=90] at (47pt,810pt) {nanosecond};

\node[anchor=base west, inner sep=0pt, font=\bfseries\fs{12.5}] at (101pt,361.65pt) {Max Smoothing Residual: \_-2.397\_\_5.607\_\_1.724\ \ Sigma= 1.299ns};
\node[anchor=base, inner sep=0pt, font=\bfseries\fs{14.75}] at (398pt,314pt) {Modified Julian Date};
\node[anchor=base, inner sep=0pt, font=\bfseries\fs{14.75}, rotate=90] at (33pt,463pt) {residuals (ns)};

\node[anchor=base west, inner sep=0pt, font=\bfseries\fs{8.5}] at (106.5pt,283pt) {$\tau$ = 1089s};
\node[anchor=base, inner sep=0pt, font=\bfseries\fs{14.75}] at (219.5pt,33.5pt) {Averaging time, log($\tau$) (s)};
\node[anchor=base, inner sep=0pt, font=\bfseries\fs{14.75}] at (561pt,33.5pt) {Averaging time, log($\tau$) (s)};
\node[anchor=base, inner sep=0pt, font=\bfseries\fs{14.75}, rotate=90] at (43pt,184.5pt) {Modified Allan Deviation (10\textsuperscript{-15})};
\node[anchor=base, inner sep=0pt, font=\bfseries\fs{14.75}, rotate=90] at (384pt,184.5pt) {Time deviation (10\textsuperscript{-10} s)};
\end{tikzpicture}
\end{document}
